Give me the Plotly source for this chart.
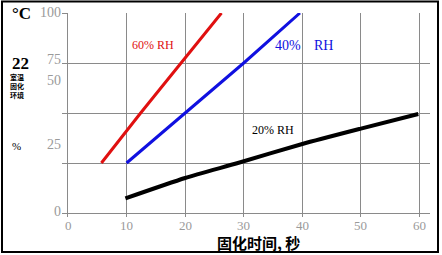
import plotly.graph_objects as go

# Data
x60 = [5.7, 12.4, 19.3, 26.2]
y60 = [25, 50, 75, 100]
x40 = [10, 20, 30, 39.6]
y40 = [25, 50, 75, 100]
x20 = [9.8, 20, 29, 40, 50, 59.8]
y20 = [7.3, 17.5, 25, 34.5, 42.2, 49.5]

ytick_text = ["100", "75", "50", "25", "0"]
ytick_py = [12, 60, 80, 145, 211]   # label pixel rows as drawn (misaligned in the source)
xtick_vals = [0, 10, 20, 30, 40, 50, 60]

W, H = 442, 255
L, R, T, B = 68, 12, 13, 38
pw, ph = W - L - R, H - T - B

def px(x):
    return (x - L) / pw

def py(y):
    return (H - B - y) / ph

serif = "Liberation Serif, Times New Roman, serif"
cjk = "Noto Sans CJK SC"
gray = "#9a9a9a"
grid = "#8a8a8a"

fig = go.Figure()
fig.add_trace(go.Scatter(x=x60, y=y60, mode="lines", line=dict(color="#e01010", width=3, shape="spline", smoothing=0.6), showlegend=False))
fig.add_trace(go.Scatter(x=x40, y=y40, mode="lines", line=dict(color="#1010e0", width=3), showlegend=False))
fig.add_trace(go.Scatter(x=x20, y=y20, mode="lines", line=dict(color="#000000", width=4, shape="spline", smoothing=0.6), showlegend=False))

ann = []
for t, p in zip(ytick_text, ytick_py):
    ann.append(dict(text=t, xref="paper", yref="paper", x=px(63), y=py(p), xanchor="right", yanchor="middle",
                    showarrow=False, font=dict(family=serif, size=14, color=gray)))
for t, v in zip([str(v) for v in xtick_vals], xtick_vals):
    ann.append(dict(text=t, xref="x", yref="paper", x=v, y=py(225), xanchor="center", yanchor="middle",
                    showarrow=False, font=dict(family=serif, size=13, color=gray)))
ann += [
    dict(text="<b>°C</b>", xref="paper", yref="paper", x=px(21), y=py(13), showarrow=False,
         font=dict(family=serif, size=17, color="black"), xanchor="center", yanchor="middle"),
    dict(text="<b>22</b>", xref="paper", yref="paper", x=px(20), y=py(63), showarrow=False,
         font=dict(family=serif, size=17, color="black"), xanchor="center", yanchor="middle"),
    dict(text="<b>室温</b>", xref="paper", yref="paper", x=px(17), y=py(77), showarrow=False,
         font=dict(family=cjk, size=7, color="black"), xanchor="center", yanchor="middle"),
    dict(text="<b>固化</b>", xref="paper", yref="paper", x=px(17), y=py(86), showarrow=False,
         font=dict(family=cjk, size=7, color="black"), xanchor="center", yanchor="middle"),
    dict(text="<b>环境</b>", xref="paper", yref="paper", x=px(17), y=py(95), showarrow=False,
         font=dict(family=cjk, size=7, color="black"), xanchor="center", yanchor="middle"),
    dict(text="%", xref="paper", yref="paper", x=px(16), y=py(146), showarrow=False,
         font=dict(family=serif, size=11, color="black"), xanchor="center", yanchor="middle"),
    dict(text="60% RH", xref="paper", yref="paper", x=px(153), y=py(45), showarrow=False,
         font=dict(family=serif, size=12, color="#e01010"), xanchor="center", yanchor="middle"),
    dict(text="40%", xref="paper", yref="paper", x=px(288), y=py(45), showarrow=False,
         font=dict(family=serif, size=14, color="#1010e0"), xanchor="center", yanchor="middle"),
    dict(text="RH", xref="paper", yref="paper", x=px(323), y=py(45), showarrow=False,
         font=dict(family=serif, size=14, color="#1010e0"), xanchor="center", yanchor="middle"),
    dict(text="20% RH", xref="paper", yref="paper", x=px(273), y=py(130), showarrow=False,
         font=dict(family=serif, size=12, color="black"), xanchor="center", yanchor="middle"),
    dict(text="<b>固化时间, 秒</b>", xref="paper", yref="paper", x=px(258), y=py(242), showarrow=False,
         font=dict(family=cjk, size=15, color="black"), xanchor="center", yanchor="middle"),
]

fig.update_layout(
    width=W, height=H, margin=dict(l=L, r=R, t=T, b=B),
    paper_bgcolor="white", plot_bgcolor="white",
    xaxis=dict(range=[0, 61.8], tickvals=xtick_vals, showticklabels=False, showgrid=True, gridcolor=grid,
               gridwidth=1, zeroline=False, showline=False, ticks="", fixedrange=True),
    yaxis=dict(range=[-2, 100], tickvals=[0, 25, 50, 75, 100], showticklabels=False,
               showgrid=True, gridcolor=grid, gridwidth=1, zeroline=False,
               showline=True, linecolor=grid, linewidth=1, ticks="outside", ticklen=5, tickcolor=grid,
               fixedrange=True),
    annotations=ann,
    shapes=[dict(type="rect", xref="paper", yref="paper", x0=px(2), x1=px(438), y0=py(252), y1=py(1.5),
                 line=dict(color="black", width=2), fillcolor="rgba(0,0,0,0)", layer="above")],
)

fig.write_html("out.html")
